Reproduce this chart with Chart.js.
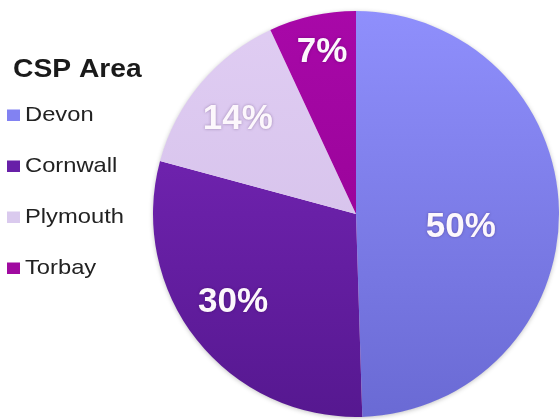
<!DOCTYPE html>
<html>
<head>
<meta charset="utf-8">
<script src="https://cdn.jsdelivr.net/npm/chart.js@4"></script>
<style>
  html, body { margin: 0; padding: 0; background: #ffffff; }
  #wrap { width: 560px; height: 420px; }
</style>
</head>
<body>
<div id="wrap"><canvas id="chart" width="560" height="420"></canvas></div>
<script>
// CSP area split (percent of total)
const areas = ['Devon', 'Cornwall', 'Plymouth', 'Torbay'];
const shares = [50, 30, 14, 7];
const legendTitle = 'CSP Area';

// Slice fills: vertical gradient [top, bottom] per area, plus a flat legend swatch
const sliceGradients = [
  ['#8f8ffc', '#6a6ad4'],
  ['#7c28be', '#561890'],
  ['#e0cdf3', '#d0bce6'],
  ['#a808a8', '#8e008e']
];
const swatchColors = ['#8282f2', '#6820a8', '#dacaee', '#a00aa0'];

// Where each percentage label sits: fraction of radius and a small angular nudge (deg)
const labelPlacement = [
  { r: 0.52, turn: 8 },
  { r: 0.745, turn: 2.7 },
  { r: 0.745, turn: -1.5 },
  { r: 0.815, turn: 0.6 }
];

const FONT = '"Liberation Sans", Arial, Helvetica, sans-serif';

function sliceFill(ctx) {
  const chart = ctx.chart;
  const area = chart.chartArea;
  const pair = sliceGradients[ctx.dataIndex];
  if (!area) return pair[0];
  const g = chart.ctx.createLinearGradient(0, area.top, 0, area.bottom);
  g.addColorStop(0, pair[0]);
  g.addColorStop(1, pair[1]);
  return g;
}

// soft drop shadow under the whole pie
const pieShadow = {
  id: 'pieShadow',
  beforeDatasetsDraw(chart) {
    const arc = chart.getDatasetMeta(0).data[0];
    if (!arc) return;
    const c = chart.ctx;
    c.save();
    c.shadowColor = 'rgba(0,0,0,0.28)';
    c.shadowBlur = 5;
    c.shadowOffsetY = 1;
    c.fillStyle = '#ffffff';
    c.beginPath();
    c.arc(arc.x, arc.y, arc.outerRadius - 0.5, 0, Math.PI * 2);
    c.fill();
    c.restore();
  }
};

// percentage labels inside the slices
const sliceLabels = {
  id: 'sliceLabels',
  afterDatasetsDraw(chart) {
    const meta = chart.getDatasetMeta(0);
    const values = chart.data.datasets[0].data;
    const c = chart.ctx;
    c.save();
    c.font = 'bold 35px ' + FONT;
    c.textAlign = 'center';
    c.textBaseline = 'middle';
    c.fillStyle = '#fcf7fc';
    c.shadowColor = 'rgba(40,0,60,0.35)';
    c.shadowBlur = 3;
    meta.data.forEach((arc, i) => {
      const p = labelPlacement[i];
      const mid = (arc.startAngle + arc.endAngle) / 2 + p.turn * Math.PI / 180;
      const rr = arc.outerRadius * p.r;
      c.fillText(values[i] + '%', arc.x + Math.cos(mid) * rr, arc.y + Math.sin(mid) * rr);
    });
    c.restore();
  }
};

// legend block on the left
const sideLegend = {
  id: 'sideLegend',
  afterDraw(chart) {
    const c = chart.ctx;
    c.save();
    c.fillStyle = '#1a1a1a';
    c.textBaseline = 'alphabetic';
    c.textAlign = 'left';
    c.font = 'bold 25px ' + FONT;
    c.save();
    c.translate(13, 77);
    c.scale(1.13, 1);
    c.fillText(legendTitle, 0, 0);
    c.restore();

    c.font = '21px ' + FONT;
    areas.forEach((name, i) => {
      const base = 121 + i * 51;
      c.fillStyle = swatchColors[i];
      c.fillRect(7, base - 11.5, 13, 11.5);
      c.fillStyle = '#222222';
      c.save();
      c.translate(25, base);
      c.scale(1.13, 1);
      c.fillText(name, 0, 0);
      c.restore();
    });
    c.restore();
  }
};

new Chart(document.getElementById('chart'), {
  type: 'pie',
  data: {
    labels: areas,
    datasets: [{
      data: shares,
      backgroundColor: sliceFill,
      borderWidth: 0,
      hoverBorderWidth: 0,
      hoverOffset: 0
    }]
  },
  options: {
    responsive: false,
    animation: false,
    events: [],
    rotation: 0,
    layout: { padding: { left: 153, right: 1, top: 11, bottom: 3 } },
    plugins: {
      legend: { display: false },
      tooltip: { enabled: false },
      title: { display: false }
    }
  },
  plugins: [pieShadow, sliceLabels, sideLegend]
});
</script>
</body>
</html>
